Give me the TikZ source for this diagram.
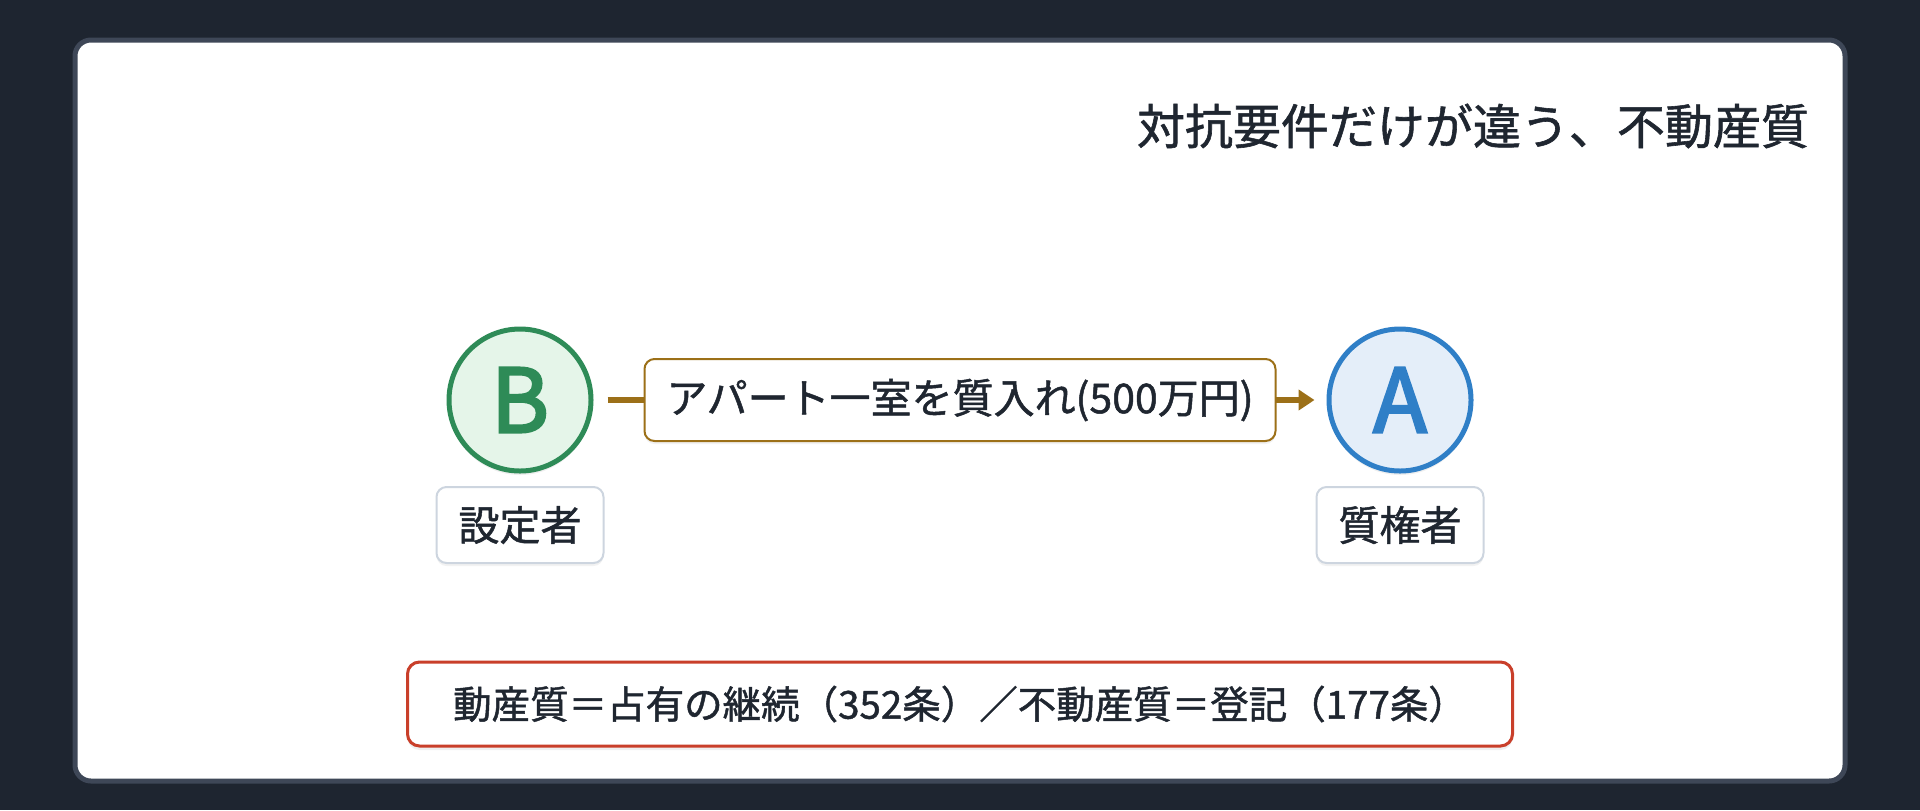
\documentclass[tikz,border=0pt]{standalone}
\usepackage{fontspec}
\setmainfont{Noto Sans CJK JP}
\newfontfamily\jpmed{Noto Sans CJK JP}[FakeBold=1.2]
\newfontfamily\jpsemi{Noto Sans CJK JP}[FakeBold=3]
\usetikzlibrary{arrows.meta,shadows}
\definecolor{bgdark}{HTML}{1E2530}
\definecolor{cardline}{HTML}{3E4757}
\definecolor{ink}{HTML}{1F2630}
\definecolor{grnline}{HTML}{2E8B57}
\definecolor{grnfill}{HTML}{E5F5E9}
\definecolor{bluline}{HTML}{2F7FC7}
\definecolor{blufill}{HTML}{E4EEF9}
\definecolor{brown}{HTML}{9C7018}
\definecolor{redline}{HTML}{C93F2A}
\definecolor{tagline}{HTML}{CDD5DF}
\begin{document}
\begin{tikzpicture}[x=0.5pt, y=-0.5pt,
    party/.style={circle, line width=2.5pt, minimum size=71pt, inner sep=0pt,
        font=\jpsemi\fontsize{44}{44}\selectfont,
        drop shadow={opacity=0.12, shadow xshift=0pt, shadow yshift=-2pt}},
    tag/.style={draw=tagline, fill=white, line width=1pt, rounded corners=5pt,
        minimum width=83.5pt, minimum height=38pt, inner sep=0pt, text=ink,
        font=\jpmed\fontsize{20.5}{20.5}\selectfont,
        drop shadow={opacity=0.10, shadow xshift=0pt, shadow yshift=-1.5pt}},
    flow/.style={draw=brown, line width=3pt, shorten <=7pt, shorten >=6pt,
        -{Triangle[length=8pt,width=10pt]}}]
\path[use as bounding box] (0,0) rectangle (1920,810);
\fill[bgdark] (0,0) rectangle (1920,810);
\draw[cardline, fill=white, line width=2.5pt, rounded corners=8pt] (75,40) rectangle (1845,781);

\node[anchor=east, text=ink, font=\jpmed\fontsize{24}{24}\selectfont] (title) at (1816,126) {対抗要件だけが違う、不動産質};

\node[party, draw=grnline, fill=grnfill, text=grnline] (B) at (520,400) {B};
\node[party, draw=bluline, fill=blufill, text=bluline] (A) at (1400,400) {A};

\node[tag] (Btag) at (520,525) {設定者};
\node[tag] (Atag) at (1400,525) {質権者};

\draw[flow] (B) -- (A);
\node[draw=brown, fill=white, line width=1pt, rounded corners=5pt,
    minimum width=315.5pt, minimum height=41pt, inner sep=0pt, text=ink,
    font=\jpmed\fontsize{20.5}{20.5}\selectfont,
    drop shadow={opacity=0.10, shadow xshift=0pt, shadow yshift=-1.5pt}] (deal) at (960,400) {アパート一室を質入れ(500万円)};

\node[draw=redline, fill=white, line width=1.5pt, rounded corners=6pt,
    minimum width=552.5pt, minimum height=42pt, inner sep=0pt, text=ink,
    font=\jpmed\fontsize{19.25}{19.25}\selectfont,
    drop shadow={opacity=0.12, shadow xshift=0pt, shadow yshift=-2pt}] (rule) at (960,704) {動産質＝占有の継続（352条）／不動産質＝登記（177条）};
\end{tikzpicture}
\end{document}
